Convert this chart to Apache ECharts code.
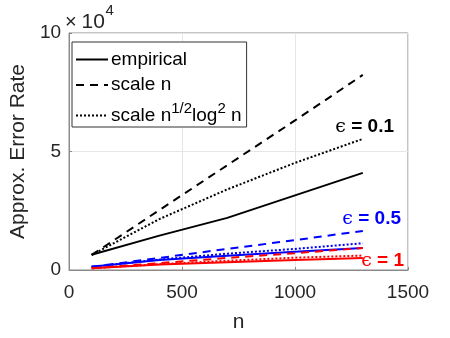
<!DOCTYPE html>
<html>
<head>
<meta charset="utf-8">
<script src="https://cdn.jsdelivr.net/npm/echarts@6/dist/echarts.min.js"></script>
<style>html,body{margin:0;padding:0;background:#fff}#c{width:450px;height:338px}</style>
</head>
<body>
<div id="c"></div>
<script>
// sample sizes
var nValues = [100, 400, 700, 1000, 1300];
// epsilon = 0.1 (black)
var emp01 = [6400, 14500, 22000, 31500, 41000];
var scaleN01 = [6350, 25300, 44200, 63100, 82300];
var scaleSqrt01 = [6350, 21500, 34000, 45200, 55300];
// epsilon = 0.5 (blue)
var emp05 = [1400, 4200, 6000, 7700, 9300];
var scaleN05 = [1350, 5100, 8900, 12600, 16500];
var scaleSqrt05 = [1350, 4400, 6900, 8900, 11300];
// epsilon = 1 (red)
var emp1 = [700, 2300, 3300, 4200, 5100];
var scaleN1 = [720, 2900, 5100, 7100, 9300];
var scaleSqrt1 = [720, 2450, 3900, 5200, 6100];

var xTicks = [0, 500, 1000, 1500];
var yTicks = [0, 50000, 100000];
var legendNames = ['empirical', 'scale n', 'scale n^{1/2}log^2 n'];
var epsLabels = ['0.1', '0.5', '1'];

function pairs(v) { return nValues.map(function (n, i) { return [n, v[i]]; }); }

var FONT = 'Liberation Sans, Arial, sans-serif';
var dashed = [8, 6];
var dotted = [2, 2];

function mk(name, data, color, type) {
  return {
    name: name, type: 'line', data: pairs(data), symbol: 'none', silent: true,
    lineStyle: { color: color, width: 2, type: type },
    itemStyle: { color: color }
  };
}

function epsText(x, y, label, color) {
  return { type: 'text', x: x, y: y, style: { text: '{e|\u03f5}{b| = ' + label + '}', align: 'right', verticalAlign: 'middle',
    rich: { e: { fontSize: 19, fontFamily: 'DejaVu Serif', fill: color }, b: { fontSize: 19, fontWeight: 'bold', fontFamily: FONT, fill: color } } } };
}

var chart = echarts.init(document.getElementById('c'));
chart.setOption({
  animation: false,
  textStyle: { fontFamily: FONT },
  grid: { left: 63, right: 42, top: 33, bottom: 64.5, show: true, borderColor: '#8a8a8a', borderWidth: 1 },
  xAxis: {
    type: 'value', min: xTicks[0], max: xTicks[xTicks.length - 1], interval: 500,
    name: 'n', nameLocation: 'middle', nameGap: 42,
    nameTextStyle: { fontSize: 21, color: '#262626', fontFamily: FONT },
    axisLine: { show: true, lineStyle: { color: '#8a8a8a' } },
    axisTick: { show: true, inside: true, length: 3, lineStyle: { color: '#8a8a8a' } },
    axisLabel: { fontSize: 19, color: '#262626', margin: 13, fontFamily: FONT,
      formatter: function (v) { return String(v); } },
    splitLine: { show: true, lineStyle: { color: '#e6e6e6' } }
  },
  yAxis: {
    type: 'value', min: yTicks[0], max: yTicks[yTicks.length - 1], interval: 50000,
    name: 'Approx. Error Rate', nameLocation: 'middle', nameGap: 36,
    nameTextStyle: { fontSize: 21, color: '#262626', fontFamily: FONT },
    axisLine: { show: true, lineStyle: { color: '#8a8a8a' } },
    axisTick: { show: true, inside: true, length: 3, lineStyle: { color: '#8a8a8a' } },
    axisLabel: { fontSize: 19, color: '#262626', margin: 8, fontFamily: FONT,
      formatter: function (v) { return String(v / 10000); } },
    splitLine: { show: true, lineStyle: { color: '#e6e6e6' } }
  },
  legend: {
    data: legendNames, orient: 'vertical', left: 72, top: 42,
    itemWidth: 32, itemHeight: 14, itemGap: 6.5,
    padding: [8, 5, 2, 3],
    borderColor: '#333', borderWidth: 1, backgroundColor: '#fff',
    selectedMode: false,
    itemStyle: { opacity: 0, borderWidth: 0 },
    textStyle: {
      fontSize: 19, color: '#000', fontFamily: FONT, padding: [0, 0, 0, -2],
      rich: {
        t: { fontSize: 19, lineHeight: 19, fontFamily: FONT, color: '#000', verticalAlign: 'bottom' },
        s: { fontSize: 15, lineHeight: 15, fontFamily: FONT, color: '#000', verticalAlign: 'bottom', padding: [0, 0, 9, 0] }
      }
    },
    formatter: function (name) {
      if (name === legendNames[2]) return '{t|scale n}{s|1/2}{t|log}{s|2}{t| n}';
      return '{t|' + name + '}';
    }
  },
  graphic: [
    { type: 'text', x: 65, y: 12, style: { text: '\u00d7', fontSize: 20, fontFamily: FONT, fill: '#262626' } },
    { type: 'text', x: 81.5, y: 11.5, style: { text: '10', fontSize: 21, fontFamily: FONT, fill: '#262626' } },
    { type: 'text', x: 105.5, y: 3, style: { text: '4', fontSize: 15, fontFamily: FONT, fill: '#262626' } },
    epsText(394, 127, epsLabels[0], '#000000'),
    epsText(401, 219, epsLabels[1], '#0000ff'),
    epsText(404, 261, epsLabels[2], '#ff0000')
  ],
  series: [
    mk(legendNames[0], emp01, '#000000', 'solid'),
    mk(legendNames[1], scaleN01, '#000000', dashed),
    mk(legendNames[2], scaleSqrt01, '#000000', dotted),
    mk('emp05', emp05, '#0000ff', 'solid'),
    mk('scaleN05', scaleN05, '#0000ff', dashed),
    mk('scaleSqrt05', scaleSqrt05, '#0000ff', dotted),
    mk('emp1', emp1, '#ff0000', 'solid'),
    mk('scaleN1', scaleN1, '#ff0000', dashed),
    mk('scaleSqrt1', scaleSqrt1, '#ff0000', dotted)
  ]
});
</script>
</body>
</html>
